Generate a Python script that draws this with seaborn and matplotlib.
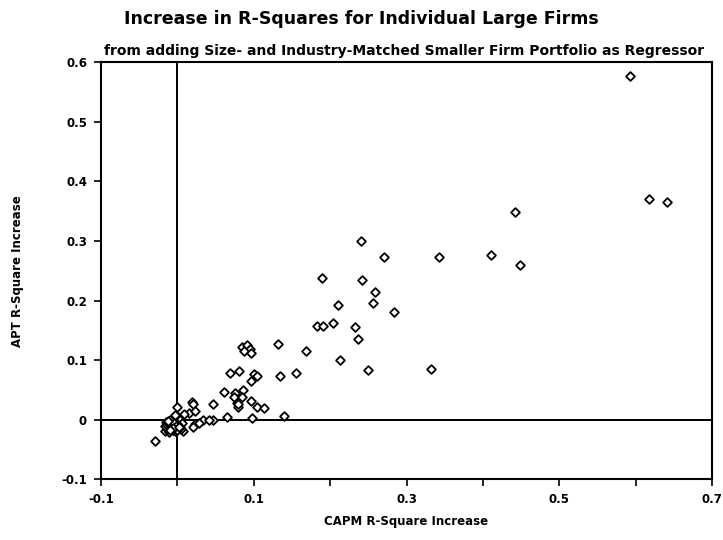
import matplotlib
matplotlib.use("Agg")
import matplotlib.pyplot as plt
import numpy as np
import pandas as pd
import seaborn as sns

# CAPM and APT R-square increases for each large firm
capm_increase = [
    0.593, 0.617, 0.641, 0.442, 0.342, 0.411, 0.448, 0.241, 0.271, 0.189,
    0.242, 0.259, 0.256, 0.210, 0.283, 0.183, 0.191, 0.204, 0.232, 0.237,
    0.169, 0.213, 0.250, 0.332, 0.1315, 0.155, 0.135,
    0.084, 0.091, 0.095, 0.087, 0.097,
    0.069, 0.081, 0.100, 0.104, 0.096,
    0.061, 0.0756, 0.0735, 0.0865, 0.084, 0.078, 0.080, 0.079,
    0.097, 0.104, 0.113,
    0.046, 0.0655, 0.098, 0.139,
    0.034, 0.046, 0.041,
    -0.029, -0.001, 0.019, 0.021, 0.015, 0.023, 0.009,
    0.023, 0.028, 0.021, 0.008, -0.016,
    -0.012, -0.008, -0.004, 0.000, 0.003, -0.010, -0.006, 0.002,
    -0.002, 0.005, -0.014, 0.001, 0.004, -0.005, 0.006, -0.003,
    -0.015, -0.011, -0.007, -0.003, 0.001, -0.013, -0.009, -0.001,
    -0.006, 0.004, -0.016, -0.010,
    -0.014, -0.012, -0.008, -0.004, 0.000, -0.002, -0.006, -0.010,
    0.002, -0.012,
]
apt_increase = [
    0.577, 0.370, 0.365, 0.349, 0.273, 0.276, 0.260, 0.300, 0.273, 0.238,
    0.234, 0.214, 0.196, 0.193, 0.180, 0.157, 0.157, 0.163, 0.155, 0.136,
    0.115, 0.101, 0.084, 0.085, 0.127, 0.079, 0.073,
    0.122, 0.125, 0.119, 0.115, 0.112,
    0.079, 0.081, 0.076, 0.073, 0.065,
    0.046, 0.045, 0.038, 0.050, 0.038, 0.0285, 0.022, 0.026,
    0.031, 0.021, 0.020,
    0.026, 0.004, 0.003, 0.0055,
    0.000, 0.000, 0.000,
    -0.036, 0.022, 0.030, 0.026, 0.012, 0.014, 0.010,
    -0.007, -0.006, -0.012, -0.019, -0.019,
    -0.012, -0.016, -0.010, -0.014, -0.008, -0.005, -0.002, -0.003,
    0.002, -0.016, -0.008, 0.005, 0.000, -0.018, -0.006, 0.008,
    -0.004, -0.020, -0.013, -0.019, -0.011, -0.016, -0.002, -0.007,
    -0.017, -0.013, -0.010, 0.000,
    -0.009, -0.006, -0.012, -0.006, -0.017, -0.011, -0.014, -0.018,
    -0.013, -0.003,
]

x_ticks = [-0.1, 0.0, 0.1, 0.2, 0.3, 0.4, 0.5, 0.6, 0.7]
x_tick_labels = ["-0.1", "", "0.1", "", "0.3", "", "0.5", "", "0.7"]
y_ticks = [-0.1, 0.0, 0.1, 0.2, 0.3, 0.4, 0.5, 0.6]
y_tick_labels = ["-0.1", "0", "0.1", "0.2", "0.3", "0.4", "0.5", "0.6"]

df = pd.DataFrame({"CAPM": capm_increase, "APT": apt_increase})

sns.set_style("ticks")
plt.rcParams["font.family"] = ["DejaVu Sans"]
plt.rcParams["text.color"] = "black"
plt.rcParams["axes.labelcolor"] = "black"

fig = plt.figure(figsize=(7.23, 5.40), dpi=100)
ax = fig.add_axes([0.1397, 0.1124, 0.8451, 0.7726])

# zero reference lines
ax.axvline(0, color="black", lw=1.4, zorder=1)
ax.axhline(0, color="black", lw=1.4, zorder=1)

sns.scatterplot(data=df, x="CAPM", y="APT", ax=ax, marker="D", s=20,
                facecolor="white", edgecolor="black", linewidth=1.3,
                zorder=3, legend=False)

ax.set_xlim(-0.1, 0.7)
ax.set_ylim(-0.1, 0.6)
ax.set_xticks(x_ticks)
ax.set_xticklabels(x_tick_labels)
ax.set_yticks(y_ticks)
ax.set_yticklabels(y_tick_labels)
ax.tick_params(direction="out", length=5, width=1.2, colors="black",
               labelsize=8.5, pad=5)
for lab in ax.get_xticklabels() + ax.get_yticklabels():
    lab.set_fontweight("bold")
for sp in ax.spines.values():
    sp.set_visible(True)
    sp.set_linewidth(1.5)
    sp.set_color("black")

ax.set_xlabel("CAPM R-Square Increase", fontsize=8.5, fontweight="bold",
              labelpad=6)
ax.set_ylabel("APT R-Square Increase", fontsize=8.5, fontweight="bold",
              labelpad=27)

fig.text(0.5, 0.965, "Increase in R-Squares for Individual Large Firms",
         ha="center", va="center", fontsize=12.5, fontweight="heavy")
fig.text(0.559, 0.906,
         "from adding Size- and Industry-Matched Smaller Firm Portfolio as Regressor",
         ha="center", va="center", fontsize=10, fontweight="bold")

fig.savefig("out.png", dpi=100, facecolor="white")
